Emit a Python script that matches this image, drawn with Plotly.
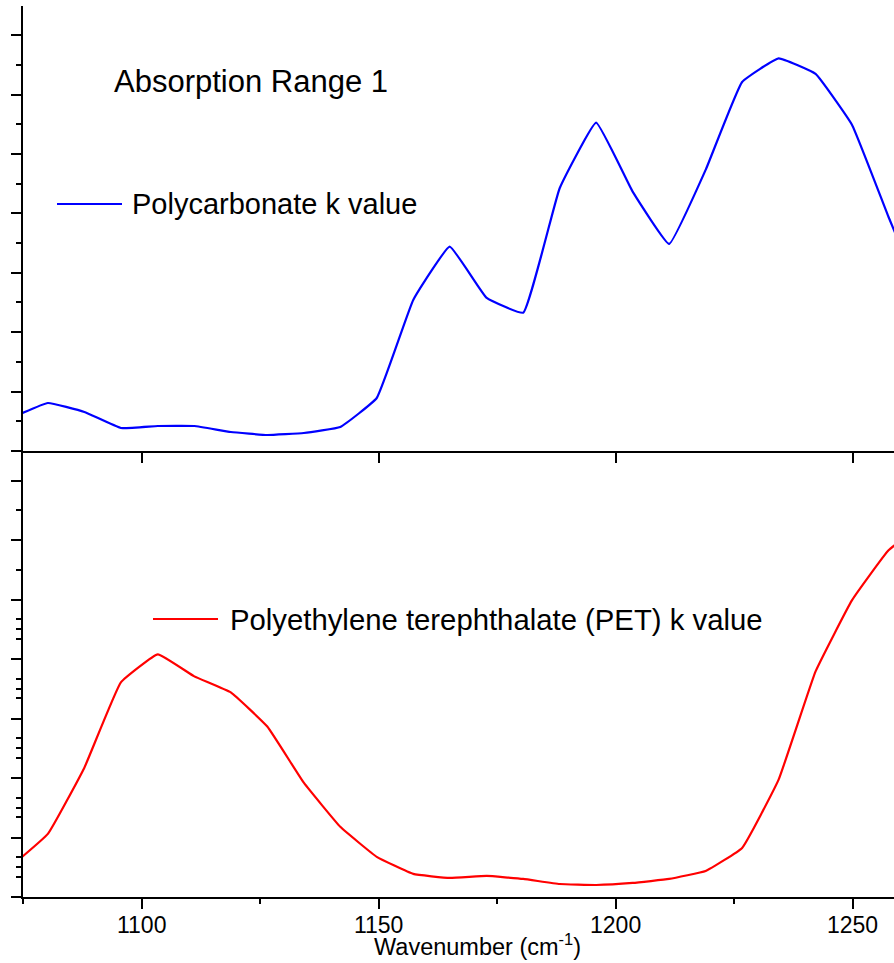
import plotly.graph_objects as go
from plotly.subplots import make_subplots

# Wavenumber grid (cm^-1)
wavenumber = [1072.5, 1080.2, 1087.9, 1095.6, 1103.4, 1111.1, 1118.8, 1126.5, 1134.2,
              1141.9, 1149.6, 1157.3, 1165.0, 1172.8, 1180.5, 1188.2, 1195.9, 1203.6,
              1211.3, 1219.0, 1226.7, 1234.4, 1242.2, 1249.9, 1257.6, 1265.3]

# Polycarbonate k value (arbitrary units)
pc_k = [0.556, 0.808, 0.657, 0.387, 0.421, 0.421, 0.320, 0.269, 0.303,
        0.404, 0.892, 2.542, 3.439, 2.576, 2.328, 4.423, 5.527, 4.365,
        3.485, 4.731, 6.212, 6.608, 6.347, 5.488, 3.939, 2.458]

# PET k value (arbitrary units)
pet_k = [0.523, 1.062, 2.175, 3.609, 4.081, 3.710, 3.440, 2.867, 1.922,
         1.180, 0.675, 0.388, 0.320, 0.354, 0.304, 0.219, 0.202, 0.236,
         0.304, 0.438, 0.826, 1.973, 3.794, 4.992, 5.83, 6.30]

x_range = [1074.95, 1258.75]
x_major_ticks = [1100, 1150, 1200, 1250]

W, H = 894, 963
ML, MR, MT, MB = 23, 0, 6, 66
PW, PH = W - ML - MR, H - MT - MB
split = (H - MB - 451) / PH

def px(x):
    return (x - ML) / PW

def py(y):
    return (H - MB - y) / PH

FONT = "Liberation Sans, Arial, sans-serif"

fig = make_subplots(rows=2, cols=1, shared_xaxes=False, vertical_spacing=0)

fig.add_trace(go.Scatter(x=wavenumber, y=pc_k, mode="lines", name="Polycarbonate k value",
                         line=dict(color="#0000FF", width=2.2, shape="spline", smoothing=0.3),
                         showlegend=False), row=1, col=1)
fig.add_trace(go.Scatter(x=wavenumber, y=pet_k, mode="lines",
                         name="Polyethylene terephthalate (PET) k value",
                         line=dict(color="#FF0000", width=2.2, shape="spline", smoothing=0.3),
                         showlegend=False), row=2, col=1)

axis_common = dict(showline=True, linecolor="black", linewidth=2, showgrid=False,
                   zeroline=False, ticks="outside", tickcolor="black", tickwidth=2,
                   ticklen=10)

fig.update_layout(
    width=W, height=H,
    margin=dict(l=ML, r=MR, t=MT, b=MB, pad=0),
    paper_bgcolor="white", plot_bgcolor="white",
    font=dict(family=FONT, color="black"),
    xaxis=dict(**axis_common, domain=[0, 1], range=x_range, tickmode="array",
               tickvals=x_major_ticks, showticklabels=False, anchor="y"),
    xaxis2=dict(**axis_common, domain=[0, 1], range=x_range, tickmode="array",
                tickvals=x_major_ticks, ticktext=[str(v) for v in x_major_ticks],
                tickfont=dict(size=23, family=FONT, color="black"),
                ticklabelstandoff=-4,
                minor=dict(tickmode="array", tickvals=[1075, 1125, 1175, 1225],
                           ticks="outside", ticklen=5, tickwidth=2, tickcolor="black"),
                anchor="y2"),
    yaxis=dict(**axis_common, domain=[split, 1], range=[0, 7.49], dtick=1, tick0=0,
               showticklabels=False, anchor="x",
               minor=dict(dtick=0.5, tick0=0, ticks="outside", ticklen=5, tickwidth=2,
                          tickcolor="black")),
    yaxis2=dict(**axis_common, domain=[0, split], range=[0, 7.5], dtick=1, tick0=0,
                showticklabels=False, anchor="x2",
                minor=dict(tickmode="array",
                           tickvals=[0.34, 0.5, 0.67, 1.34, 1.5, 1.67, 2.34, 2.5, 2.67,
                                     3.34, 3.5, 3.67, 4.34, 4.5, 4.67, 5.5, 6.5],
                           ticks="outside", ticklen=5, tickwidth=2, tickcolor="black")),
)

annos = [
    dict(text="Absorption Range 1", x=px(112), y=py(82), size=31),
    dict(text="Polycarbonate k value", x=px(130), y=py(204), size=29),
    dict(text="Polyethylene terephthalate (PET) k value", x=px(228), y=py(619), size=29.3),
]
for a in annos:
    fig.add_annotation(text=a["text"], x=a["x"], y=a["y"], xref="paper", yref="paper",
                       xanchor="left", yanchor="middle", showarrow=False,
                       font=dict(size=a["size"], color="black", family=FONT))

fig.add_annotation(text="Wavenumber (cm<sup>-1</sup>)", x=px(478), y=py(945),
                   xref="paper", yref="paper", xanchor="center", yanchor="middle",
                   showarrow=False,
                   font=dict(size=23.5, color="black", family=FONT))

# legend sample lines
fig.add_shape(type="line", xref="paper", yref="paper", x0=px(57), x1=px(122),
              y0=py(204), y1=py(204), line=dict(color="#0000FF", width=2))
fig.add_shape(type="line", xref="paper", yref="paper", x0=px(153), x1=px(218),
              y0=py(619), y1=py(619), line=dict(color="#FF0000", width=2))

fig.write_html("out.html")
